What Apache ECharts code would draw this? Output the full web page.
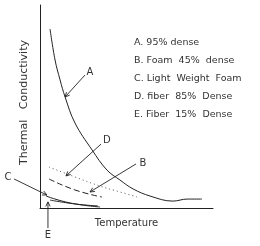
<!DOCTYPE html>
<html><head><meta charset="utf-8">
<script src="https://cdn.jsdelivr.net/npm/echarts@6/dist/echarts.min.js"></script>
<style>html,body{margin:0;padding:0;background:#fff}#c{width:260px;height:246px}</style>
</head><body><div id="c"></div>
<script>
// Temperature (0-100) vs thermal conductivity (0-100), relative units
var seriesNames = ['A. 95% dense', 'B. Foam  45%  dense', 'C. Light  Weight  Foam', 'D. fiber  85%  Dense', 'E. Fiber  15%  Dense'];
var aX = [5.8, 8.7, 11.6, 14.5, 20.2, 30.1, 38.7, 46.2, 53.8, 63.6, 76.9, 85.0, 93.6];
var aY = [88.2, 72.9, 63.1, 54.7, 41.9, 28.6, 18.7, 13.8, 9.4, 5.9, 3.4, 4.4, 4.4];
var bX = [5.2, 20.2, 35.8];
var bY = [14.3, 8.9, 5.4];
var cX = [3.5, 17.3, 34.7];
var cY = [5.9, 2.5, 0.5];
var dX = [5.2, 20.2, 34.7, 46.2, 56.1];
var dY = [20.2, 15.3, 10.8, 7.9, 5.4];
var eX = [5.8, 20.2, 33.5];
var eY = [3.9, 2.0, 1.0];
var annLabels = ['A', 'D', 'B', 'C', 'E'];
var annText = [[28.9, 67.0], [38.7, 33.5], [59.5, 22.2], [-18.5, 15.3], [4.6, -13.3]];
var annFrom = [[26.0, 65.5], [35.3, 31.5], [55.5, 21.7], [-15.0, 14.3], [4.6, -9.9]];
var annTo = [[14.5, 54.7], [15.0, 15.8], [28.9, 7.9], [4.0, 6.4], [4.6, 3.0]];

function zip(xs, ys) { return xs.map(function (x, i) { return [x, ys[i]]; }); }
var FONT = 'DejaVu Sans';
var chart = echarts.init(document.getElementById('c'), null, {renderer: 'canvas'});
var ink = '#222';
function mk(name, xs, ys, type, color, smooth) {
  return { name: name, type: 'line', data: zip(xs, ys), smooth: smooth, symbol: 'none',
    lineStyle: { color: color, width: 1, type: type }, itemStyle: { color: color }, silent: true, animation: false };
}
chart.setOption({
  animation: false,
  grid: { left: 40, right: 47, top: 5, bottom: 38 },
  xAxis: { type: 'value', min: 0, max: 100, axisLine: { lineStyle: { color: ink, width: 1 } },
    axisTick: { show: false }, axisLabel: { show: false }, splitLine: { show: false },
    name: 'Temperature', nameLocation: 'middle', nameGap: 10,
    nameTextStyle: { fontFamily: FONT, fontSize: 10, color: '#333' } },
  yAxis: { type: 'value', min: 0, max: 100, axisLine: { lineStyle: { color: ink, width: 1 } },
    axisTick: { show: false }, axisLabel: { show: false }, splitLine: { show: false },
    name: 'Thermal   Conductivity', nameLocation: 'middle', nameGap: 10,
    nameTextStyle: { fontFamily: FONT, fontSize: 11, color: '#333', padding: [0, 0, 0, 8] } },
  legend: { orient: 'vertical', left: 124, top: 32, icon: 'none', itemWidth: 0, itemHeight: 0, itemGap: 6,
    selectedMode: false, data: seriesNames,
    textStyle: { fontFamily: FONT, fontSize: 9.5, color: '#333', lineHeight: 12 } },
  series: [
    mk(seriesNames[0], aX, aY, 'solid', ink, 0.4),
    mk(seriesNames[1], bX, bY, [6, 3], ink, true),
    mk(seriesNames[2], cX, cY, 'solid', ink, true),
    mk(seriesNames[3], dX, dY, [1, 3], '#555', true),
    mk(seriesNames[4], eX, eY, 'solid', ink, true)
  ]
});
var g = [];
for (var i = 0; i < annLabels.length; i++) {
  var p0 = chart.convertToPixel({ gridIndex: 0 }, annFrom[i]);
  var p1 = chart.convertToPixel({ gridIndex: 0 }, annTo[i]);
  var pt = chart.convertToPixel({ gridIndex: 0 }, annText[i]);
  var ang = Math.atan2(p1[1] - p0[1], p1[0] - p0[0]);
  var L = 5, w = 0.45;
  g.push({ type: 'line', shape: { x1: p0[0], y1: p0[1], x2: p1[0], y2: p1[1] }, style: { stroke: ink, lineWidth: 0.9 }, silent: true });
  g.push({ type: 'polyline', shape: { points: [
      [p1[0] - L * Math.cos(ang - w), p1[1] - L * Math.sin(ang - w)], [p1[0], p1[1]],
      [p1[0] - L * Math.cos(ang + w), p1[1] - L * Math.sin(ang + w)]] },
    style: { stroke: ink, lineWidth: 0.9, fill: null }, silent: true });
  g.push({ type: 'text', x: pt[0], y: pt[1], style: { text: annLabels[i], fontFamily: FONT, fontSize: 10,
    fill: '#333', align: 'center', verticalAlign: 'middle' }, silent: true });
}
chart.setOption({ graphic: g });
</script></body></html>
